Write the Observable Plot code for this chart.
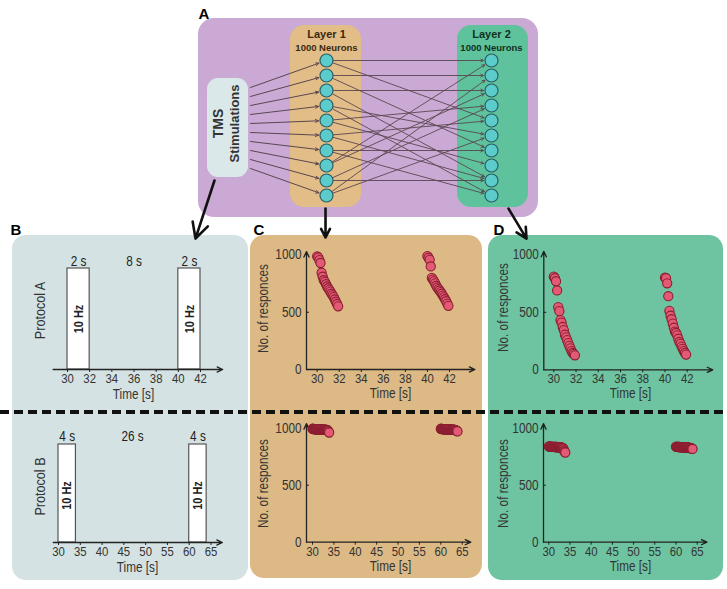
<!DOCTYPE html>
<html><head><meta charset="utf-8">
<script src="https://cdn.jsdelivr.net/npm/d3@7"></script>
<script src="https://cdn.jsdelivr.net/npm/@observablehq/plot@0.6"></script>
<style>
body{margin:0;background:#fff;}
#fig{position:relative;width:727px;height:589px;overflow:hidden;font-family:"Liberation Sans",Arial,sans-serif;}
.bg{position:absolute;}
.lbl{position:absolute;font-weight:bold;font-size:15px;color:#000;transform:translate(-50%,-50%);line-height:1;}
</style></head><body><div id="fig"></div>
<script>
// ---------- data ----------
const neuronIdx = [0,1,2,3,4,5,6,7,8,9];
const stimIdx = [0,1,2,3,4,5,6,7,8,9];
const links = [[0,0],[0,4],[1,1],[1,6],[2,2],[2,8],[3,5],[3,9],[4,3],[4,7],
               [5,4],[5,8],[6,6],[6,9],[7,0],[7,2],[8,3],[8,8],[9,1],[9,5]];

const ticksA = [30,32,34,36,38,40,42];
const ticksB = [30,35,40,45,50,55,60,65];
const ticksN = [0,500,1000];

const barsA = [[30,32],[40,42]];
const durA = [[31,"2 s"],[36,"8 s"],[41,"2 s"]];
const barsB = [[30,34],[60,64]];
const durB = [[32,"4 s"],[47,"26 s"],[62,"4 s"]];

const tA1 = [30.0,30.1,30.2,30.3,30.4,30.5,30.6,30.7,30.8,30.9,31.0,31.1,31.2,31.3,31.4,31.5,31.6,31.7,31.8,31.9];
const tA2 = [40.0,40.1,40.2,40.3,40.4,40.5,40.6,40.7,40.8,40.9,41.0,41.1,41.2,41.3,41.4,41.5,41.6,41.7,41.8,41.9];
const cA1 = [988,978,955,930,845,810,780,765,745,725,710,695,680,662,648,632,612,592,572,552];
const cA2 = [990,975,958,900,800,785,770,752,732,716,702,690,676,662,646,630,614,596,576,556];
const dA1 = [810,796,770,690,545,510,432,410,372,345,305,282,258,232,208,186,162,146,136,126];
const dA2 = [802,796,752,640,512,470,440,402,366,332,320,300,270,242,226,202,182,162,146,132];

const tB1 = [30.0,30.1,30.2,30.3,30.4,30.5,30.6,30.7,30.8,30.9,31.0,31.1,31.2,31.3,31.4,31.5,31.6,31.7,31.8,31.9,
             32.0,32.1,32.2,32.3,32.4,32.5,32.6,32.7,32.8,32.9,33.0,33.1,33.2,33.3,33.4,33.5,33.6,33.7,33.8,33.9];
const tB2 = [60.0,60.1,60.2,60.3,60.4,60.5,60.6,60.7,60.8,60.9,61.0,61.1,61.2,61.3,61.4,61.5,61.6,61.7,61.8,61.9,
             62.0,62.1,62.2,62.3,62.4,62.5,62.6,62.7,62.8,62.9,63.0,63.1,63.2,63.3,63.4,63.5,63.6,63.7,63.8,63.9];
const cB1 = [995,994,993,993,992,992,992,991,991,991,990,990,990,990,990,989,989,989,989,989,
             988,988,988,988,988,988,987,987,987,987,987,986,986,985,984,982,978,972,966,962];
const cB2 = [995,994,993,993,992,992,992,991,991,991,990,990,990,990,990,989,989,989,989,989,
             988,988,988,988,988,988,987,987,987,987,987,986,986,985,984,983,981,978,975,972];
const dB1 = [840,839,839,838,838,838,837,837,837,837,836,836,836,836,836,835,835,835,835,835,
             834,834,834,834,834,833,833,833,832,832,831,830,828,826,822,815,805,796,790,786];
const dB2 = [838,837,837,836,836,836,835,835,835,835,834,834,834,834,834,833,833,833,833,833,
             832,832,832,832,832,831,831,831,830,830,829,829,828,827,826,825,824,822,820,818];

// ---------- layout ----------
const fig = document.getElementById("fig");
const FONT = '"Liberation Sans",Arial,sans-serif';
function bg(l,t,w,h,r,c){const d=document.createElement("div");d.className="bg";
  Object.assign(d.style,{left:l+"px",top:t+"px",width:w+"px",height:h+"px",borderRadius:r+"px",background:c});fig.appendChild(d);}
function letter(s,x,y){const d=document.createElement("div");d.className="lbl";d.textContent=s;
  d.style.left=x+"px";d.style.top=y+"px";fig.appendChild(d);}

bg(198,18,340,199,16,"#caaad4");
bg(290,25,71,182,14,"#e2bd87");
bg(457,25,71,182,14,"#5ec39c");
bg(207,78,41,99,11,"#dbe8e9");
bg(12,235,236,345,14,"#d4e2e3");
bg(250,235,232,343,14,"#dcb985");
bg(488,235,235,345,14,"#6ec4a1");
const dash=document.createElement("div");
Object.assign(dash.style,{position:"absolute",left:"0px",top:"410px",width:"727px",height:"4px",
  background:"repeating-linear-gradient(to right,#111 0 9px,transparent 9px 14px)"});
fig.appendChild(dash);

function place(svg,l,t){svg.style.position="absolute";svg.style.left=l+"px";svg.style.top=t+"px";svg.style.overflow="visible";fig.appendChild(svg);}
// narrow the Arial-like glyphs to mimic the condensed face of the original
function condense(svg,k){
  svg.querySelectorAll("text").forEach(t=>{
    const L=t.getComputedTextLength();
    if(L>0){t.setAttribute("textLength",(L*k).toFixed(2));t.setAttribute("lengthAdjust","spacingAndGlyphs");}
  });
}

function panel(cfg){
  const {left,top,width,height,xd,xp,yd,yp} = cfg;
  const mL=xp[0]-left, mR=left+width-xp[1], mT=yp[1]-top, mB=top+height-yp[0];
  const txt=(s,ax,ay,o={})=>Plot.text([s],{text:d=>d,frameAnchor:"top-left",dx:ax-(left+mL),dy:ay-(top+mT),
      fontFamily:FONT,fontSize:14,fill:"#333",textAnchor:"middle",lineAnchor:"middle",...o});
  const svg=Plot.plot({width,height,marginLeft:mL,marginRight:mR,marginTop:mT,marginBottom:mB,
    x:{domain:xd,axis:null},y:{domain:yd,axis:null},
    style:{background:"transparent",fontFamily:FONT,overflow:"visible"},
    marks:cfg.marks(txt)});
  place(svg,left,top);
  condense(svg,0.84);
}

const axisStroke="#222";
function xAxisMarks(ticks,x0,x1,y0){return [
  Plot.arrow([0],{x1:x0,x2:x1,y1:y0,y2:y0,stroke:axisStroke,strokeWidth:1.3,headLength:7,headAngle:50}),
  Plot.axisX({ticks,tickSize:3,tickPadding:1,fontSize:13.5,fill:"#333",stroke:axisStroke,fontFamily:FONT,tickFormat:d=>String(d),label:null})
];}
function yAxisMarks(x0,y0,y1,xtick){return [
  Plot.arrow([0],{x1:x0,x2:x0,y1:y0,y2:y1,stroke:axisStroke,strokeWidth:1.3,headLength:7,headAngle:50}),
  Plot.ruleY([500],{x1:x0,x2:xtick,stroke:axisStroke,strokeWidth:1}),
  Plot.axisY({ticks:ticksN,tickSize:0,tickPadding:5,fontSize:14,fill:"#333",fontFamily:FONT,tickFormat:d=>String(d),label:null})
];}
const dotStyle={r:4.6,fill:"#e35a74",stroke:"#8a1e30",strokeWidth:1.1};

// ---- B top (Protocol A)
panel({left:12,top:237,width:236,height:170,xd:[30,42],xp:[67,200],yd:[0,1],yp:[369,268],
  marks:txt=>[
    Plot.rect(barsA,{x1:d=>d[0],x2:d=>d[1],y1:0,y2:1,fill:"#fff",stroke:"#555",strokeWidth:1.2}),
    ...xAxisMarks(ticksA,28.7,44.0,0),
    Plot.text(durA,{x:d=>d[0],y:1,text:d=>d[1],dy:-7,fontSize:14,fontFamily:FONT,fill:"#222"}),
    Plot.text(barsA,{x:d=>(d[0]+d[1])/2,y:0.5,text:()=>"10 Hz",rotate:-90,fontSize:13,fontWeight:"bold",fontFamily:FONT,fill:"#222"}),
    txt("Protocol A",40,310,{rotate:-90,fontSize:15}),
    txt("Time [s]",133,394,{fontSize:14})
  ]});

// ---- B bottom (Protocol B)
panel({left:12,top:414,width:236,height:166,xd:[30,65],xp:[58,210.5],yd:[0,1],yp:[542,444],
  marks:txt=>[
    Plot.rect(barsB,{x1:d=>d[0],x2:d=>d[1],y1:0,y2:1,fill:"#fff",stroke:"#555",strokeWidth:1.2}),
    ...xAxisMarks(ticksB,28.8,67.6,0),
    Plot.text(durB,{x:d=>d[0],y:1,text:d=>d[1],dy:-8,fontSize:14,fontFamily:FONT,fill:"#222"}),
    Plot.text(barsB,{x:d=>(d[0]+d[1])/2,y:0.48,text:()=>"10 Hz",rotate:-90,fontSize:13,fontWeight:"bold",fontFamily:FONT,fill:"#222"}),
    txt("Protocol B",40,486,{rotate:-90,fontSize:15}),
    txt("Time [s]",137,567,{fontSize:14})
  ]});

// ---- C top
panel({left:250,top:237,width:232,height:170,xd:[29.03,42],xp:[306,449],yd:[0,1000],yp:[369,254.5],
  marks:txt=>[
    ...xAxisMarks(ticksA,29.03,44.3,0),
    ...yAxisMarks(29.03,0,1030,29.3),
    Plot.dot(tA1,{x:d=>d,y:(d,i)=>cA1[i],...dotStyle}),
    Plot.dot(tA2,{x:d=>d,y:(d,i)=>cA2[i],...dotStyle}),
    txt("No. of responces",263,308,{rotate:-90,fontSize:14}),
    txt("Time [s]",390,393,{fontSize:14})
  ]});

// ---- D top
panel({left:488,top:237,width:235,height:170,xd:[29.1,42],xp:[543.3,686.7],yd:[0,1000],yp:[369.3,254.3],
  marks:txt=>[
    ...xAxisMarks(ticksA,29.1,44.3,0),
    ...yAxisMarks(29.1,0,1030,29.37),
    Plot.dot(tA1,{x:d=>d,y:(d,i)=>dA1[i],...dotStyle}),
    Plot.dot(tA2,{x:d=>d,y:(d,i)=>dA2[i],...dotStyle}),
    txt("No. of responces",503,307,{rotate:-90,fontSize:14}),
    txt("Time [s]",630,393,{fontSize:14})
  ]});

// ---- C bottom
panel({left:250,top:414,width:232,height:164,xd:[28.6,65],xp:[306,461.7],yd:[0,1000],yp:[541.7,427.7],
  marks:txt=>[
    ...xAxisMarks(ticksB,28.6,67.0,0),
    ...yAxisMarks(28.6,0,1040,29.3),
    Plot.dot(tB1,{x:d=>d,y:(d,i)=>cB1[i],...dotStyle}),
    Plot.dot(tB2,{x:d=>d,y:(d,i)=>cB2[i],...dotStyle}),
    txt("No. of responces",263,483,{rotate:-90,fontSize:14}),
    txt("Time [s]",390,566,{fontSize:14})
  ]});

// ---- D bottom
panel({left:488,top:414,width:235,height:166,xd:[28.75,65],xp:[543,696.7],yd:[0,1000],yp:[541.7,427.7],
  marks:txt=>[
    ...xAxisMarks(ticksB,28.75,67.3,0),
    ...yAxisMarks(28.75,0,1040,29.45),
    Plot.dot(tB1,{x:d=>d,y:(d,i)=>dB1[i],...dotStyle}),
    Plot.dot(tB2,{x:d=>d,y:(d,i)=>dB2[i],...dotStyle}),
    txt("No. of responces",503,483,{rotate:-90,fontSize:14}),
    txt("Time [s]",630,566,{fontSize:14})
  ]});

// ---- A: network diagram (x: 0 = TMS, 1 = Layer 1, 2 = Layer 2; y: neuron index)
const layer1 = neuronIdx.map(i=>({layer:1,i}));
const layer2 = neuronIdx.map(i=>({layer:2,i}));
const connectors = [
  {x1:-0.143,y1:8.0,x2:-0.337,y2:11.87},
  {x1:0.99,y1:9.87,x2:0.99,y2:11.8},
  {x1:2.103,y1:9.87,x2:2.212,y2:11.87}
];
const diag = Plot.plot({width:727,height:250,margin:0,
  x:{type:"linear",domain:[0,1,2],range:[228,326,491],axis:null},
  y:{type:"linear",domain:[0,9],range:[60,195],axis:null},
  style:{background:"transparent",overflow:"visible",fontFamily:'"Liberation Sans",Arial,sans-serif'},
  marks:[
    Plot.arrow(stimIdx,{x1:0.224,y1:i=>1.8+i*0.6,x2:1,y2:i=>i,insetEnd:8,stroke:"#5a4650",strokeWidth:1,headLength:5,headAngle:50}),
    Plot.arrow(links,{x1:1,y1:d=>d[0],x2:2,y2:d=>d[1],insetStart:7,insetEnd:8,stroke:"#5a4650",strokeWidth:0.9,headLength:5,headAngle:55}),
    Plot.dot(layer1,{x:"layer",y:"i",r:6.5,fill:"#5ccbcc",stroke:"#2b5f63",strokeWidth:1.2}),
    Plot.dot(layer2,{x:"layer",y:"i",r:6.5,fill:"#5ccbcc",stroke:"#2b5f63",strokeWidth:1.2}),
    Plot.text(["Layer 1"],{x:1,y:0,dy:-26,fontSize:11,fontWeight:"bold",fill:"#3a2a10"}),
    Plot.text(["1000 Neurons"],{x:1,y:0,dy:-13,fontSize:9.5,fontWeight:"bold",fill:"#3a2a10"}),
    Plot.text(["Layer 2"],{x:2,y:0,dy:-26,fontSize:11,fontWeight:"bold",fill:"#10301f"}),
    Plot.text(["1000 Neurons"],{x:2,y:0,dy:-13,fontSize:9.5,fontWeight:"bold",fill:"#10301f"}),
    Plot.text(["TMS"],{x:0,y:4.2,dx:-10,rotate:-90,fontSize:14,fontWeight:"bold",fill:"#333"}),
    Plot.text(["Stimulations"],{x:0,y:4.2,dx:6,rotate:-90,fontSize:13,fontWeight:"bold",fill:"#333"}),
    Plot.arrow(connectors,{x1:"x1",y1:"y1",x2:"x2",y2:"y2",stroke:"#111",strokeWidth:2.6,headLength:10,headAngle:55})
  ]});
place(diag,0,0);

letter("A",204,13);
letter("B",16,229);
letter("C",259,229);
letter("D",499,229);
</script></body></html>
